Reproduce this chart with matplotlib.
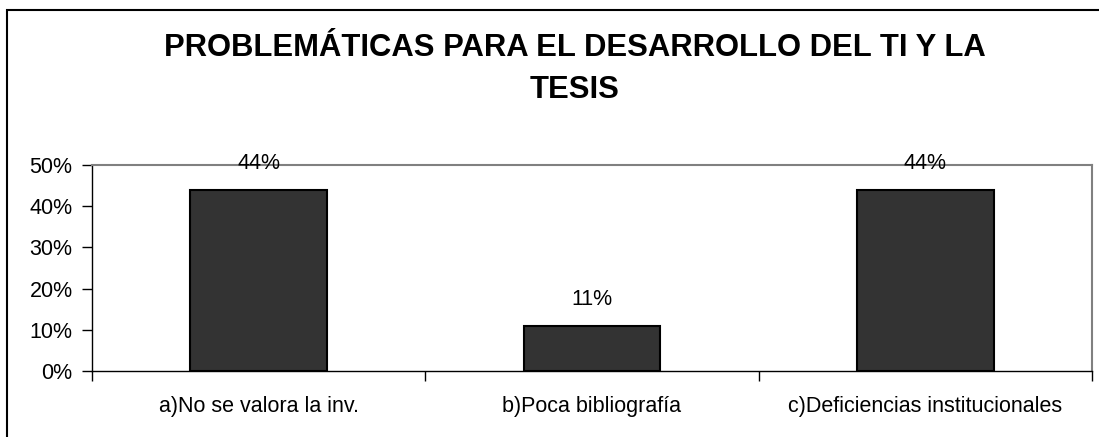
import matplotlib
matplotlib.use("Agg")
import matplotlib.pyplot as plt
from matplotlib.patches import Rectangle
from matplotlib.ticker import FuncFormatter, MultipleLocator

categories = ["a)No se valora la inv.", "b)Poca bibliografía", "c)Deficiencias institucionales"]
values = [0.44, 0.11, 0.44]
value_labels = ["44%", "11%", "44%"]
title = "PROBLEMÁTICAS PARA EL DESARROLLO DEL TI Y LA\nTESIS"

plt.rcParams["font.family"] = ["Liberation Sans", "DejaVu Sans"]

W, H = 1099, 437
fig = plt.figure(figsize=(W / 100, H / 100), dpi=100)

# outer chart border
fig.add_artist(Rectangle((7 / W, -0.05), 1.2, (H - 10) / H + 0.05,
                         transform=fig.transFigure, fill=False,
                         edgecolor="black", linewidth=1.5))

left, right, top, bottom = 92, 1092, 165, 371
ax = fig.add_axes([left / W, 1 - bottom / H, (right - left) / W, (bottom - top) / H])

x = range(len(categories))
ax.bar(x, values, width=0.41, color="#333333", edgecolor="black", linewidth=1.5, zorder=3)
for xi, v, lab in zip(x, values, value_labels):
    ax.annotate(lab, (xi, v), xytext=(0, 26), textcoords="offset pixels",
                ha="center", va="center", fontsize=15.5, zorder=4)

ax.set_xlim(-0.5, len(categories) - 0.5)
ax.set_ylim(0, 0.5)
ax.yaxis.set_major_locator(MultipleLocator(0.1))
ax.yaxis.set_major_formatter(FuncFormatter(lambda v, p: f"{v * 100:.0f}%"))
ax.set_xticks([i - 0.5 for i in range(len(categories) + 1)])
ax.set_xticklabels([])
ax.set_xticks(list(x), minor=True)
ax.set_xticklabels(categories, minor=True, fontsize=15.5)
ax.tick_params(axis="x", which="minor", length=0, pad=18)
ax.tick_params(axis="x", which="major", direction="out", length=7, width=1, color="black")
ax.tick_params(axis="y", direction="out", length=7, width=1, labelsize=15.5, pad=7)

for side in ("left", "bottom"):
    ax.spines[side].set_color("black")
    ax.spines[side].set_linewidth(1)
for side in ("top", "right"):
    ax.spines[side].set_color("#808080")
    ax.spines[side].set_linewidth(1.5)

fig.text(575 / W, 1 - 69 / H, title, ha="center", va="center", fontsize=22.3,
         fontweight="bold", linespacing=1.55)

fig.savefig("out.png", dpi=100)
